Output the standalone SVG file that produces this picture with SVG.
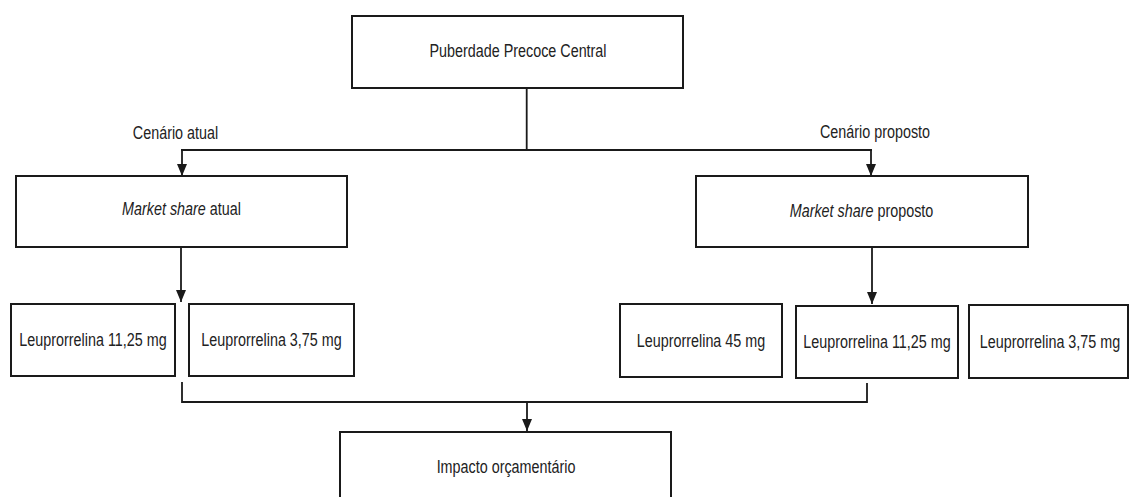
<svg xmlns="http://www.w3.org/2000/svg" width="1130" height="497" viewBox="0 0 1130 497">
<style>
.box{fill:#fff;stroke:#1a1a1a;stroke-width:2}
.t{font-family:"Liberation Sans",Arial,sans-serif;font-size:17.5px;fill:#222;text-anchor:middle}
.i{font-style:italic}
.c{fill:none;stroke:#1a1a1a;stroke-width:1.8}
</style>
<defs>
<marker id="arr" markerUnits="userSpaceOnUse" markerWidth="12" markerHeight="10" refX="12" refY="5" orient="auto" viewBox="0 0 12 10">
<path d="M0,0 L12,5 L0,10 Z" fill="#1a1a1a"/>
</marker>
</defs>
<rect width="1130" height="497" fill="#fff"/>
<g id="connectors">
<path class="c" d="M526.7,88 V150"/>
<path class="c" d="M181,150 H872"/>
<path class="c" d="M182,150 V176" marker-end="url(#arr)"/>
<path class="c" d="M871,150 V176" marker-end="url(#arr)"/>
<path class="c" d="M181,247 V302" marker-end="url(#arr)"/>
<path class="c" d="M872,247 V304" marker-end="url(#arr)"/>
<path class="c" d="M182,382 V402 H867 V383"/>
<path class="c" d="M527,402 V431" marker-end="url(#arr)"/>
</g>
<g id="lbl-atual"><text class="t" transform="translate(175.5,139) scale(0.82,1)">Cenário atual</text></g>
<g id="lbl-proposto"><text class="t" transform="translate(875,138) scale(0.82,1)">Cenário proposto</text></g>
<g id="ppc"><rect class="box" x="352" y="16" width="331" height="72"/><text class="t" transform="translate(518,57) scale(0.82,1)">Puberdade Precoce Central</text></g>
<g id="ms-atual"><rect class="box" x="16" y="176" width="331" height="71"/><text class="t" transform="translate(181.5,215) scale(0.82,1)"><tspan class="i">Market share</tspan> atual</text></g>
<g id="ms-proposto"><rect class="box" x="696" y="176" width="332" height="71"/><text class="t" transform="translate(861.5,217) scale(0.82,1)"><tspan class="i">Market share</tspan> proposto</text></g>
<g id="a-1125"><rect class="box" x="11" y="304" width="164" height="72"/><text class="t" transform="translate(93,346) scale(0.82,1)">Leuprorrelina 11,25 mg</text></g>
<g id="a-375"><rect class="box" x="189" y="304" width="165" height="72"/><text class="t" transform="translate(271.5,346) scale(0.82,1)">Leuprorrelina 3,75 mg</text></g>
<g id="p-45"><rect class="box" x="620" y="304" width="162" height="73"/><text class="t" transform="translate(701,347) scale(0.82,1)">Leuprorrelina 45 mg</text></g>
<g id="p-1125"><rect class="box" x="796" y="306" width="162" height="72"/><text class="t" transform="translate(877,348) scale(0.82,1)">Leuprorrelina 11,25 mg</text></g>
<g id="p-375"><rect class="box" x="969" y="305" width="159" height="73"/><text class="t" transform="translate(1050,348) scale(0.82,1)">Leuprorrelina 3,75 mg</text></g>
<g id="impacto"><rect class="box" x="340" y="432" width="331" height="80"/><text class="t" transform="translate(506,473) scale(0.82,1)">Impacto orçamentário</text></g>
</svg>
